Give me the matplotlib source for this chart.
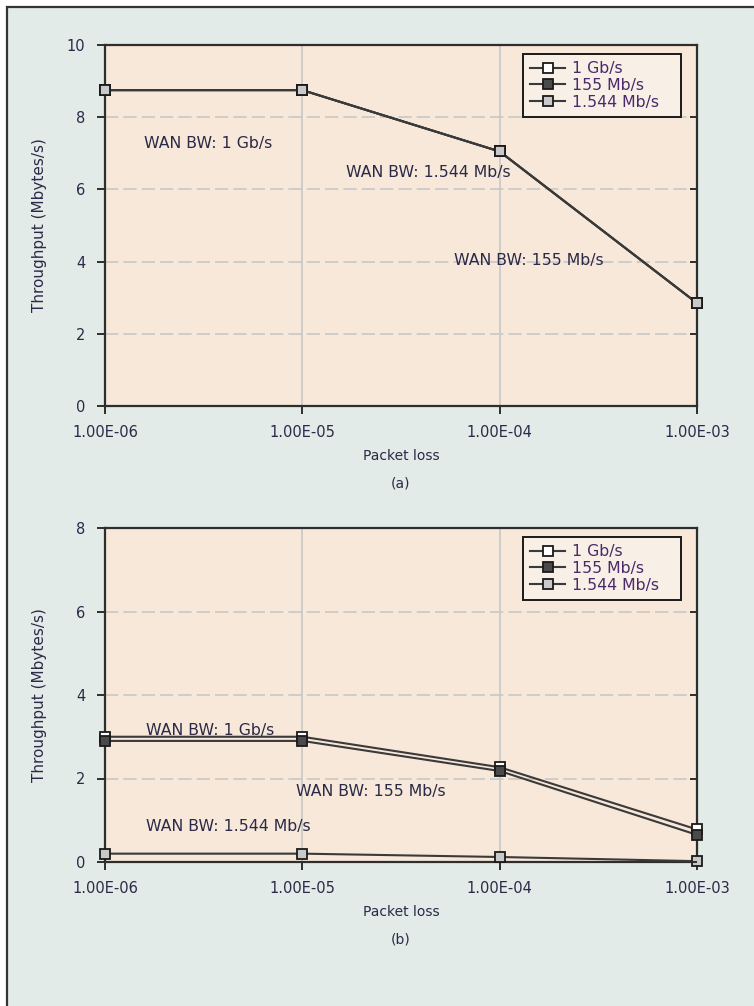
import matplotlib
matplotlib.use('Agg')
import matplotlib.pyplot as plt
import matplotlib.patches as mpatches
from matplotlib.ticker import FixedLocator, FuncFormatter
import numpy as np

# packet loss values (x axis)
loss = [1e-6, 1e-5, 1e-4, 1e-3]
series = ['1 Gb/s', '155 Mb/s', '1.544 Mb/s']

# panel (a) throughput, Mbytes/s
a_1g = [8.75, 8.75, 7.05, 2.85]
a_155 = [8.75, 8.75, 7.05, 2.85]
a_1544 = [8.75, 8.75, 7.05, 2.85]

# panel (b) throughput, Mbytes/s
b_1g = [3.0, 3.0, 2.27, 0.78]
b_155 = [2.9, 2.9, 2.18, 0.65]
b_1544 = [0.2, 0.2, 0.12, 0.02]

a_notes = [('WAN BW: 1 Gb/s', 10**-5.80, 7.28),
           ('WAN BW: 1.544 Mb/s', 10**-4.78, 6.48),
           ('WAN BW: 155 Mb/s', 10**-4.23, 4.04)]
b_notes = [('WAN BW: 1 Gb/s', 10**-5.79, 3.16),
           ('WAN BW: 155 Mb/s', 10**-5.03, 1.70),
           ('WAN BW: 1.544 Mb/s', 10**-5.79, 0.86)]

face = ['white', '#4a4a4a', '#c9c9c9']
txtc = '#2a2a48'
plt.rcParams['font.family'] = ['DejaVu Sans']

fig = plt.figure(figsize=(7.54, 10.06), dpi=100)
fig.patch.set_facecolor('white')
frame = mpatches.Rectangle((7/754, -0.02), 1.1, 1 - 7/1006 + 0.02,
                           transform=fig.transFigure, facecolor='#e2ebe7',
                           edgecolor='#333333', linewidth=1.6, zorder=0)
fig.add_artist(frame)


def panel(rect, data, notes, ymax, ystep, tag):
    ax = fig.add_axes(rect)
    ax.set_facecolor('#f7e8d9')
    ax.set_xscale('log')
    ax.set_xlim(1e-6, 1e-3)
    ax.set_ylim(0, ymax)
    ax.xaxis.set_major_locator(FixedLocator(loss))
    ax.xaxis.set_minor_locator(FixedLocator([]))
    ax.xaxis.set_major_formatter(FuncFormatter(lambda v, p: '%.2E' % v))
    ax.set_yticks(np.arange(0, ymax + 0.1, ystep))
    ax.grid(axis='x', color='#c8c8c8', linewidth=1.2, linestyle='-')
    ax.grid(axis='y', color='#c8c8c8', linewidth=1.2, linestyle=(0, (8, 3)))
    ax.set_axisbelow(True)
    for s in ax.spines.values():
        s.set_color('#2e2e2e')
        s.set_linewidth(1.6)
    ax.tick_params(axis='both', length=6, width=1.4, color='#2e2e2e',
                   labelsize=10.5, labelcolor=txtc, pad=8)
    # short inward ticks on the right spine
    rt = ax.twinx()
    rt.set_ylim(0, ymax)
    rt.set_yticks(np.arange(0, ymax + 0.1, ystep))
    rt.tick_params(axis='y', direction='in', length=5, width=1.4,
                   color='#2e2e2e', labelright=False)
    for s in rt.spines.values():
        s.set_visible(False)
    for i, ys in enumerate(data):
        ax.plot(loss, ys, color='#3a3a3a', linewidth=1.5, marker='s',
                markersize=7, markerfacecolor=face[i], markeredgecolor='#1a1a1a',
                markeredgewidth=1.3, label=series[i] + '   ', clip_on=False,
                zorder=3 + i)
    for t, x, y in notes:
        ax.text(x, y, t, fontsize=11.3, color=txtc, ha='left', va='center')
    ax.set_xlabel('Packet loss', fontsize=10, color=txtc, labelpad=6)
    ax.set_ylabel('Throughput (Mbytes/s)', fontsize=11, color=txtc)
    ax.yaxis.set_label_coords((47 - 105) / 592, 0.5)
    leg = ax.legend(loc='upper right',
                    bbox_to_anchor=(1 - 16 / 592, 1 - 9 / (rect[3] * 1006)),
                    fontsize=11.3, fancybox=False, framealpha=1, borderaxespad=0,
                    handlelength=2.2, handletextpad=0.45, borderpad=0.45,
                    labelspacing=0.12)
    leg.get_frame().set_edgecolor('#1a1a1a')
    leg.get_frame().set_facecolor('#f8efe6')
    leg.get_frame().set_linewidth(1.4)
    leg.set_zorder(20)
    for t in leg.get_texts():
        t.set_color('#4a2a6a')
    x0 = rect[0] + rect[2] / 2
    fig.text(x0, rect[1] - 0.077, tag, ha='center', va='center',
             fontsize=10, color=txtc)
    return ax


panel([105/754, 1 - 406/1006, 592/754, 361/1006], [a_1g, a_155, a_1544],
      a_notes, 10, 2, '(a)')
panel([105/754, 1 - 862/1006, 592/754, 334/1006], [b_1g, b_155, b_1544],
      b_notes, 8, 2, '(b)')

fig.savefig('out.png', dpi=100, facecolor=fig.get_facecolor())
